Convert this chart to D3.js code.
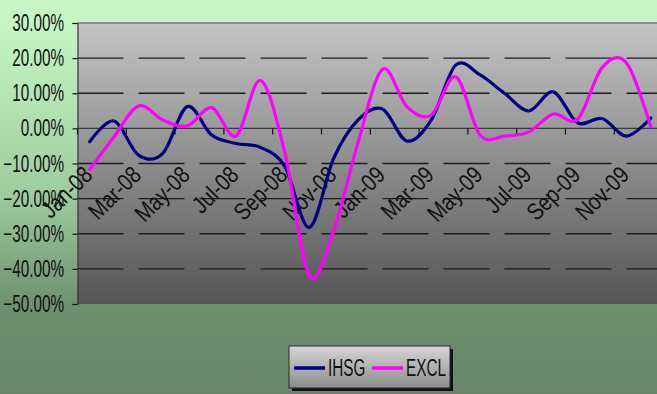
<!DOCTYPE html>
<html>
<head>
<meta charset="utf-8">
<script src="https://cdn.jsdelivr.net/npm/d3@7/dist/d3.min.js"></script>
<style>
  html, body { margin: 0; padding: 0; background: #6b8a6b; }
  svg { display: block; }
</style>
</head>
<body>
<svg id="chart" width="657" height="394"></svg>
<script>
// Monthly returns, Jan-2008 .. Dec-2009 (percent)
const months = ["Jan-08","Feb-08","Mar-08","Apr-08","May-08","Jun-08","Jul-08","Aug-08","Sep-08","Oct-08","Nov-08","Dec-08",
                "Jan-09","Feb-09","Mar-09","Apr-09","May-09","Jun-09","Jul-09","Aug-09","Sep-09","Oct-09","Nov-09","Dec-09"];
const ihsg = [-3.8, 2.1, -7.6, -7.1, 6.2, -1.9, -4.3, -5.4, -10.9, -28.2, -8.5, 2.4,
              5.5, -3.6, 2.4, 18.0, 15.2, 10.0, 5.0, 10.4, 1.6, 2.8, -2.2, 3.0];
const excl = [-11.7, -2.4, 6.4, 2.4, 0.7, 5.9, -2.2, 13.6, -7.0, -42.0, -29.0, -4.0,
              16.8, 6.2, 3.8, 14.7, -1.9, -2.2, -1.0, 4.1, 2.6, 17.3, 18.6, 0.4];
const yTicks = [30, 20, 10, 0, -10, -20, -30, -40, -50];
const xTickLabels = months.filter((d, i) => i % 2 === 0);

const series = [
  { name: "IHSG", values: ihsg, color: "#000080" },
  { name: "EXCL", values: excl, color: "#ff00ff" }
];

const W = 657, H = 394;
const plot = { left: 77.5, top: 23, bottom: 304, step: 24.4 };
plot.right = plot.left + months.length * plot.step;

const svg = d3.select("#chart");
const defs = svg.append("defs");

// chart-area and plot-area fills
const bgGrad = defs.append("linearGradient").attr("id", "bg").attr("x1", 0).attr("y1", 0).attr("x2", 0).attr("y2", 1);
[[0, "#c8f8c8"], [0.12, "#c0f0c0"], [0.5, "#9ecb9e"], [0.78, "#6d8f6d"], [1, "#6a876a"]]
  .forEach(([o, c]) => bgGrad.append("stop").attr("offset", o).attr("stop-color", c));

const plotGrad = defs.append("linearGradient").attr("id", "plotbg").attr("x1", 0).attr("y1", 0).attr("x2", 0).attr("y2", 1);
[[0, "#c4c4c4"], [1, "#555555"]]
  .forEach(([o, c]) => plotGrad.append("stop").attr("offset", o).attr("stop-color", c));

const legGrad = defs.append("linearGradient").attr("id", "legbg").attr("x1", 0).attr("y1", 0).attr("x2", 0).attr("y2", 1);
[[0, "#d6d6d6"], [1, "#8c8c8c"]]
  .forEach(([o, c]) => legGrad.append("stop").attr("offset", o).attr("stop-color", c));

svg.append("rect").attr("width", W).attr("height", H).attr("fill", "url(#bg)");

const x = d3.scaleBand().domain(months).range([plot.left, plot.right]).padding(0);
const xc = d => x(d) + x.bandwidth() / 2;
const y = d3.scaleLinear().domain([-50, 30]).range([plot.bottom, plot.top]);

svg.append("rect")
  .attr("x", plot.left).attr("y", plot.top)
  .attr("width", plot.right - plot.left).attr("height", plot.bottom - plot.top)
  .attr("fill", "url(#plotbg)");

// font: condensed sans; value labels squeezed horizontally
const FONT = "'Liberation Sans Narrow', 'Arial Narrow', 'Liberation Sans', Arial, sans-serif";
const FS = 23;
const probe = svg.append("text").attr("font-family", FONT).attr("font-size", FS).text("-50.00%");
const sx = 57 / probe.node().getComputedTextLength();
const probe2 = svg.append("text").attr("font-family", FONT).attr("font-size", 24).text("Mar-08");
const sxl = 63 / probe2.node().getComputedTextLength();
probe.remove();
probe2.remove();

// dashed gridlines
svg.append("g")
  .selectAll("line")
  .data(yTicks.filter(v => v !== 30 && v !== 0 && v !== -50))
  .join("line")
  .attr("x1", plot.left).attr("x2", plot.right)
  .attr("y1", d => y(d)).attr("y2", d => y(d))
  .attr("stroke", "#1c1c1c").attr("stroke-width", 1.3)
  .attr("stroke-dasharray", "46,15");

// top border of plot area
svg.append("line")
  .attr("x1", plot.left).attr("x2", plot.right)
  .attr("y1", plot.top).attr("y2", plot.top)
  .attr("stroke", "#7a7a7a").attr("stroke-width", 1.5);

// y axis
const yAxis = d3.axisLeft(y).tickValues(yTicks).tickSize(5).tickFormat(d => d3.format(".2f")(d) + "%");
const gy = svg.append("g").attr("transform", `translate(${plot.left},0)`).call(yAxis);
gy.select(".domain").attr("stroke", "#3a3a3a").attr("stroke-width", 1.2);
gy.selectAll(".tick line").attr("stroke", "#111").attr("stroke-width", 1.2);
gy.selectAll(".tick text")
  .attr("font-family", FONT).attr("font-size", FS).attr("fill", "#111")
  .attr("x", null).attr("dy", null).attr("text-anchor", "end")
  .attr("transform", `translate(-13.5,7.5) scale(${sx},1)`)
  .attr("y", 0);

// x axis along zero
const boundaries = d3.range(0, months.length + 1, 2).map(i => plot.left + i * plot.step);
const gx = svg.append("g");
gx.append("line")
  .attr("x1", plot.left).attr("x2", plot.right)
  .attr("y1", y(0)).attr("y2", y(0))
  .attr("stroke", "#3a3a3a").attr("stroke-width", 1.3);
gx.selectAll("line.tk").data(boundaries).join("line").attr("class", "tk")
  .attr("x1", d => d).attr("x2", d => d)
  .attr("y1", y(0)).attr("y2", y(0) + 6)
  .attr("stroke", "#111").attr("stroke-width", 1.2);

// rotated month labels
svg.append("g").selectAll("text").data(xTickLabels).join("text")
  .attr("font-family", FONT).attr("font-size", 24).attr("fill", "#111")
  .attr("text-anchor", "end")
  .attr("transform", d => `translate(${xc(d) + 4},${y(-13.7)}) rotate(-45) scale(${sxl},1)`)
  .text(d => d);

// smoothed series lines
const line = d3.line()
  .x((d, i) => xc(months[i]))
  .y(d => y(d))
  .curve(d3.curveCardinal.tension(0));

svg.append("g").selectAll("path").data(series).join("path")
  .attr("d", s => line(s.values))
  .attr("fill", "none")
  .attr("stroke", s => s.color)
  .attr("stroke-width", 3.2)
  .attr("stroke-linejoin", "round")
  .attr("stroke-linecap", "round");

// legend
const leg = { x: 289, y: 346, w: 161, h: 42 };
svg.append("rect").attr("x", leg.x + 3).attr("y", leg.y + 3).attr("width", leg.w).attr("height", leg.h).attr("fill", "#111");
svg.append("rect").attr("x", leg.x).attr("y", leg.y).attr("width", leg.w).attr("height", leg.h)
  .attr("fill", "url(#legbg)").attr("stroke", "#2a2a2a").attr("stroke-width", 1);
const items = svg.append("g").selectAll("g").data(series).join("g")
  .attr("transform", (d, i) => `translate(${leg.x + 5 + i * 78},${leg.y + 22})`);
items.append("line").attr("x1", 0).attr("x2", 31).attr("y1", 0).attr("y2", 0)
  .attr("stroke", d => d.color).attr("stroke-width", 3.5);
items.append("text")
  .attr("font-family", FONT).attr("font-size", FS).attr("fill", "#111")
  .attr("transform", `translate(34,8) scale(${sx},1)`)
  .text(d => d.name);
</script>
</body>
</html>
